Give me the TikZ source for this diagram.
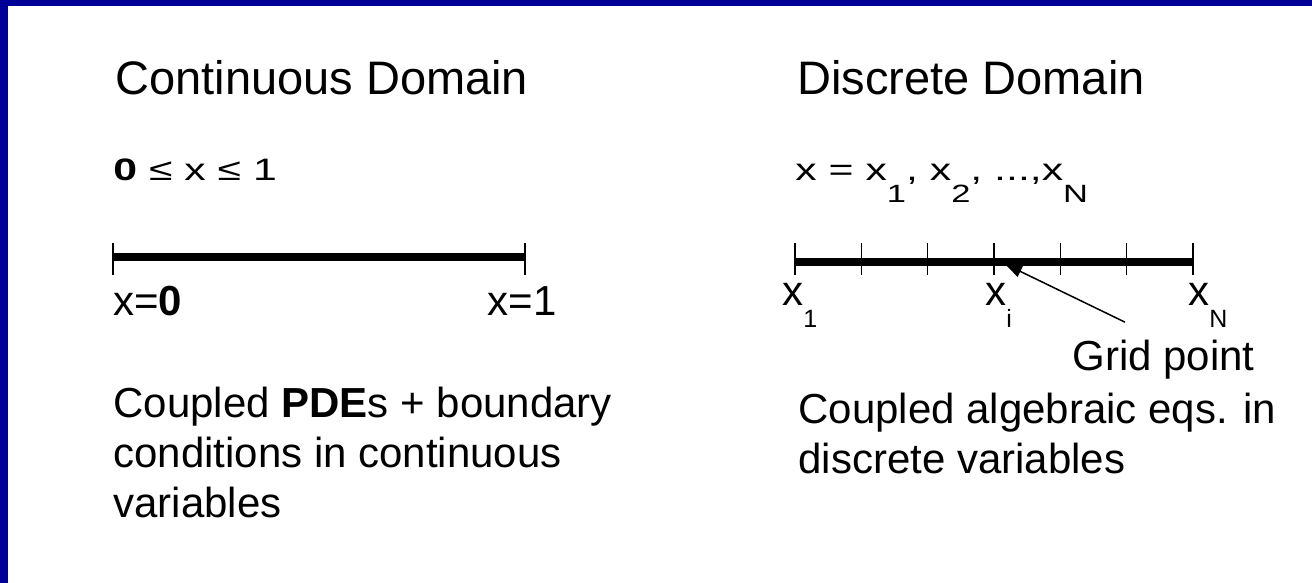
\documentclass[tikz,border=0pt]{standalone}
\usepackage{fontspec}
\setmainfont{Liberation Sans}
\newfontfamily\widefont[FakeStretch=1.38]{Liberation Sans}
\usetikzlibrary{arrows.meta}

\definecolor{frameblue}{HTML}{000099}
% a low subscript, set well below the baseline as in the slide
\newcommand{\lowsub}[1]{\raisebox{-11pt}{\fontsize{12.5}{13}\selectfont #1}}

\begin{document}
\begin{tikzpicture}[
  x=0.5pt, y=-0.5pt,
  heading/.style = {font=\fontsize{23.5}{27}\selectfont, anchor=base west, inner sep=0pt},
  bounds/.style  = {font=\widefont\fontsize{15.5}{19}\selectfont, anchor=base west, inner sep=0pt},
  tag/.style     = {font=\fontsize{21}{25}\selectfont, anchor=base west, inner sep=0pt},
  para/.style    = {font=\fontsize{21}{25}\selectfont, align=left, anchor=base west, inner sep=0pt},
  axis/.style    = {line width=4pt},
  tick/.style    = {line width=0.8pt},
  pointer/.style = {line width=0.75pt, -{Triangle[length=8.5pt,width=6pt]}},
]
  \useasboundingbox (0,0) rectangle (1312,583);
  \fill[white] (0,0) rectangle (1312,583);
  \fill[frameblue] (0,0) rectangle (1312,6);
  \fill[frameblue] (0,0) rectangle (8,583);

  % continuous side
  \node[heading] (conthead) at (115,95) {Continuous Domain};
  \node[bounds] (contrange) at (113,180) {\textbf{0} ≤ x ≤ 1};
  \coordinate (c0) at (113,257);
  \coordinate (c1) at (525,257);
  \draw[axis] (c0) -- (c1);
  \foreach \p in {c0,c1}
    \draw[tick] ([yshift=7pt]\p) -- ([yshift=-9pt]\p);
  \node[tag] (lx0) at (113,315) {x=\textbf{0}};
  \node[tag, anchor=base east] (lx1) at (557,315) {x=1};
  % base of a wrapped node is its last line
  \node[para] (contpara) at (113,517) {Coupled \textbf{PDE}s + boundary\\conditions in continuous\\variables};

  % discrete side
  \node[heading] (dischead) at (797,95) {Discrete Domain};
  \node[bounds] (discrange) at (795,180) {x = x\lowsub{1}, x\lowsub{2}, ...,x\lowsub{N}};
  \coordinate (d0) at (795,262);
  \coordinate (d6) at (1193,262);
  \draw[axis] (d0) -- (d6);
  \foreach \i in {0,...,6}
    \coordinate (g\i) at (795+\i*66.33,262);
  \foreach \i in {0,...,6}
    \draw[tick] ([yshift=9.5pt]g\i) -- ([yshift=-6.5pt]g\i);
  \node[tag] (gx1) at (782,305) {x\lowsub{1}};
  \node[tag] (gxi) at (985,305) {x\lowsub{i}};
  \node[tag] (gxN) at (1188,305) {x\lowsub{N}};
  \node[tag] (grid) at (1072,370) {Grid point};
  \coordinate (tip) at (1005,264);
  \draw[pointer] ([xshift=26.5pt,yshift=8.5pt]grid.north west) -- (tip);
  \node[para] (discpara) at (798,473) {Coupled algebraic eqs. in\\discrete variables};
\end{tikzpicture}
\end{document}
